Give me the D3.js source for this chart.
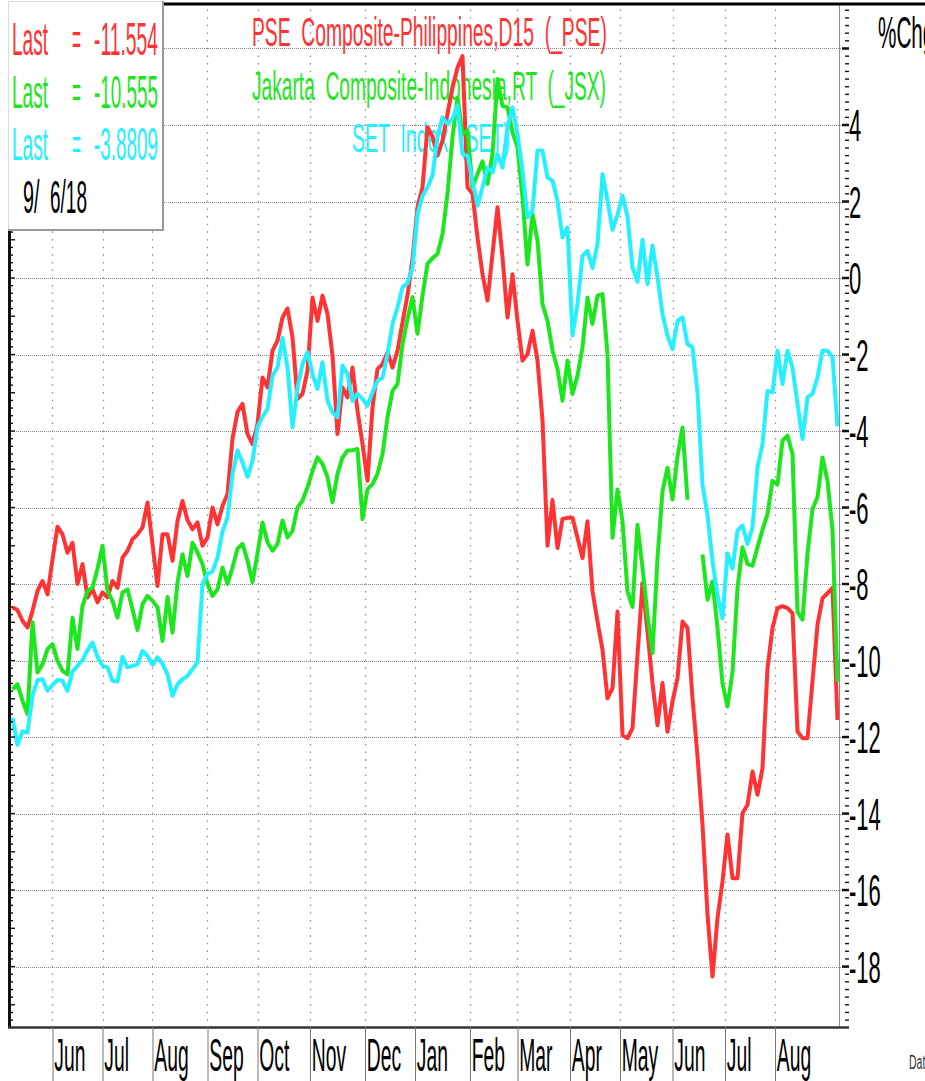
<!DOCTYPE html>
<html>
<head>
<meta charset="utf-8">
<script src="https://cdn.jsdelivr.net/npm/d3@7"></script>
<style>
  html, body { margin: 0; padding: 0; background: #fff; overflow: hidden; }
  svg { display: block; font-family: "Liberation Sans", Arial, sans-serif; }
</style>
</head>
<body>
<div id="chart"></div>
<script>
// month labels and the bar where each month starts
const monthLabels = ["Jun", "Jul", "Aug", "Sep", "Oct", "Nov", "Dec", "Jan", "Feb", "Mar", "Apr", "May", "Jun", "Jul", "Aug"];
const monthBars = [16, 36, 56, 78, 98, 119, 141, 161, 183, 202, 223, 243, 264, 285, 305];
const barStep = 2; // one reading every 2 bars
const yTicks = [4, 2, 0, -2, -4, -6, -8, -10, -12, -14, -16, -18];
const gridValues = [6, 4, 2, 0, -2, -4, -6, -8, -10, -12, -14, -16, -18];

const seriesNames = ["PSE  Composite-Philippines,D15  (_PSE)", "Jakarta  Composite-Indonesia,RT  (_JSX)", "SET  Index  (SET)"];
const lastValues = ["-11.554", "-10.555", "-3.8809"];
const lastDate = ["9/", "6/18"];

// % change
const pseValues = [
  -8.61, -8.68, -8.96, -9.14, -8.70, -8.18, -7.92, -8.27, -7.35, -6.5,
  -6.7, -7.18, -6.92, -8.0, -7.48, -8.35, -8.13, -8.48, -8.22, -8.35,
  -7.92, -8.1, -7.31, -7.13, -6.83, -6.70, -6.52, -5.87, -6.96, -8.05,
  -6.70, -6.70, -7.39, -6.35, -5.83, -6.33, -6.57, -6.39, -7.0, -6.78,
  -6.0, -6.44, -5.96, -5.65, -4.2, -3.5, -3.29, -4.08, -4.34, -3.82,
  -2.6, -2.86, -1.90, -1.64, -1.03, -0.8, -1.55, -3.16, -3.03, -2.42,
  -0.51, -1.12, -0.46, -0.94, -2.03, -4.08, -2.86, -3.12, -2.34, -3.47,
  -4.34, -5.3, -3.38, -2.38, -2.25, -1.94, -2.34, -1.90, -1.16, -0.45,
  0.5, 1.85, 2.37, 3.94, 3.7, 3.2, 3.59, 4.29, 4.98, 5.5,
  5.8, 2.37, 2.2, 1.06, 0.1, -0.59, 0.63, 1.85, 0.54, -1.03,
  0.1, -1.12, -2.16, -1.99, -1.38, -2.16, -3.72, -7.0, -5.8, -7.06,
  -6.3, -6.27, -6.27, -6.79, -7.32, -6.36, -8.19, -8.98, -9.72, -10.99,
  -10.72, -8.72, -11.95, -12.03, -11.77, -9.85, -7.97, -9.24, -10.59, -11.69,
  -10.59, -11.86, -11.07, -10.46, -8.98, -9.15, -10.99, -12.5, -14.29, -16.64,
  -18.26, -16.73, -15.77, -14.55, -15.69, -15.69, -13.99, -13.77, -12.9, -13.51,
  -12.81, -10.2, -9.15, -8.63, -8.58, -8.63, -8.76, -11.85, -12.03, -12.03,
  -10.54, -9.06, -8.37, -8.24, -8.1, -11.554
];
const jsxValues = [
  -10.75, -10.62, -11.05, -11.4, -9.0, -10.31, -10.1, -9.7, -9.57, -10.01,
  -10.27, -10.36, -8.88, -9.7, -8.57, -8.18, -8.09, -7.6, -7.0, -8.18,
  -8.44, -8.88, -8.22, -8.14, -8.66, -9.2, -8.53, -8.31, -8.44, -8.61,
  -9.49, -8.34, -9.27, -7.96, -7.22, -7.79, -6.92, -7.18, -7.48, -8.0,
  -8.31, -8.14, -7.57, -8.0, -7.57, -7.08, -6.95, -7.39, -7.95, -7.2,
  -6.39, -6.91, -7.13, -6.95, -6.34, -6.78, -6.61, -6.0, -5.82, -5.47,
  -5.04, -4.69, -4.86, -5.21, -5.86, -5.12, -4.69, -4.51, -4.5, -4.47,
  -6.3, -5.52, -5.39, -5.12, -4.6, -3.64, -2.95, -2.77, -1.73, -1.07,
  -0.5, -1.46, -0.46, 0.37, 0.52, 0.63, 1.15, 2.2, 3.68, 4.72,
  3.76, 3.85, 2.37, 2.72, 3.05, 2.46, 3.24, 5.2, 4.5, 4.46,
  3.81, 3.42, 2.11, 0.35, 1.67, 0.98, -0.68, -1.12, -1.9, -2.38,
  -3.21, -2.16, -3.03, -2.55, -1.81, -0.51, -1.2, -0.46, -0.42, -2.0,
  -6.79, -5.53, -6.36, -8.19, -8.6, -6.45, -7.58, -8.8, -9.81, -7.32,
  -5.57, -4.96, -5.79, -4.66, -3.91, -5.8, null, null, -7.23, -8.41,
  -7.93, -9.15, -10.6, -11.2, -10.3, -8.1, -7.04, -7.48, -7.52, -7.04,
  -6.58, -6.17, -5.3, -5.4, -4.25, -4.12, -4.6, -8.72, -8.93, -7.2,
  -6.04, -5.73, -4.69, -5.3, -6.6, -10.555
];
const setValues = [
  -11.5, -12.2, -11.85, -11.88, -10.92, -10.51, -10.49, -10.79, -10.64, -10.51,
  -10.53, -10.79, -10.29, -10.14, -9.99, -9.73, -9.53, -9.9, -10.14, -10.18,
  -10.53, -10.55, -9.9, -10.18, -10.14, -10.1, -9.75, -9.88, -10.11, -9.92,
  -10.08, -10.36, -10.92, -10.62, -10.49, -10.4, -10.23, -10.05, -8.0, -7.74,
  -7.67, -7.31, -6.63, -6.26, -5.12, -4.51, -4.82, -5.2, -4.78, -3.9,
  -3.63, -3.42, -2.55, -2.34, -1.57, -2.34, -3.9, -2.86, -2.25, -1.94,
  -2.51, -2.9, -2.2, -3.21, -3.51, -3.64, -2.29, -2.51, -3.21, -3.03,
  -3.16, -3.34, -2.99, -2.68, -2.61, -1.99, -1.2, -0.77, -0.24, -0.14,
  0.28, 1.67, 2.15, 2.37, 2.68, 3.68, 4.2, 4.03, 4.16, 4.51,
  3.24, 3.2, 2.54, 1.89, 2.37, 2.89, 2.76, 3.24, 2.89, 3.94,
  4.46, 3.76, 2.81, 1.59, 1.76, 3.33, 3.33, 2.63, 2.54, 2.02,
  1.06, 1.32, -1.5, -0.68, 0.58, 0.71, 0.26, 0.89, 2.72, 2.02,
  1.26, 1.65, 2.15, 1.6, 0.28, -0.1, 1.0, -0.16, 0.85, 0.02,
  -0.94, -1.51, -1.86, -1.12, -1.03, -1.73, -1.81, -3.0, -5.4, -6.2,
  -7.4, -8.3, -8.9, -7.2, -7.6, -6.6, -6.47, -6.95, -6.52, -4.95,
  -4.34, -2.95, -2.99, -1.9, -2.77, -1.9, -2.34, -3.29, -4.21, -3.12,
  -3.03, -2.6, -1.9, -1.9, -2.07, -3.8809
];

const colors = ["#ff3333", "#1ee61e", "#26f0ff"];

const width = 925;
const height = 1081;
const plot = {left: 10, right: 839, top: 4, bottom: 1027};

const x = d3.scaleLinear().domain([-1, 330.6]).range([plot.left, plot.right]);
const y = d3.scaleLinear().domain([-19.58, 7.163]).range([plot.bottom, plot.top]);

const svg = d3.select("#chart").append("svg")
    .attr("width", width)
    .attr("height", height);

// text squeezed sideways to a given width, like the narrow font of the original
function fitText(parent, str, left, base, targetWidth, size, color) {
  const t = parent.append("text")
      .attr("x", 0).attr("y", 0)
      .style("font-size", size + "px")
      .style("white-space", "pre")
      .attr("fill", color)
      .text(str);
  const w = t.node().getComputedTextLength();
  t.attr("transform", `translate(${left},${base}) scale(${targetWidth / w},1)`);
  return t;
}

svg.append("rect").attr("width", width).attr("height", height).attr("fill", "#fff");

svg.append("defs").append("clipPath").attr("id", "plot-clip")
  .append("rect")
    .attr("x", plot.left).attr("y", plot.top)
    .attr("width", plot.right - plot.left).attr("height", plot.bottom - plot.top);

// horizontal grid
svg.append("g").selectAll("line")
  .data(gridValues)
  .join("line")
    .attr("x1", plot.left).attr("x2", 848)
    .attr("y1", d => Math.round(y(d)) + 0.5).attr("y2", d => Math.round(y(d)) + 0.5)
    .attr("stroke", "#8c8c8c")
    .attr("stroke-dasharray", "1,1");

// vertical dotted grid at month starts
const dotStep = y(0) - y(0.2);
svg.append("g").selectAll("line")
  .data(monthBars)
  .join("line")
    .attr("x1", d => Math.round(x(d)) + 0.5).attr("x2", d => Math.round(x(d)) + 0.5)
    .attr("y1", y(7.0) - 0.75).attr("y2", plot.bottom)
    .attr("stroke", "#8c8c8c")
    .attr("stroke-width", 1.3)
    .attr("stroke-dasharray", `1.5,${dotStep - 1.5}`);

// titles
const titleLayout = [
  {x: 252, base: 46, len: 355},
  {x: 252, base: 100, len: 354},
  {x: 352, base: 152, len: 158}
];
const titles = svg.append("g");
seriesNames.forEach((name, i) => {
  fitText(titles, name, titleLayout[i].x, titleLayout[i].base, titleLayout[i].len, 41, colors[i]);
});

// series lines
const allSeries = [pseValues, jsxValues, setValues];
const line = d3.line()
    .defined(d => d.v !== null)
    .x(d => x(d.bar))
    .y(d => y(d.v));

svg.append("g")
    .attr("clip-path", "url(#plot-clip)")
  .selectAll("path")
  .data(allSeries.map(vals => vals.map((v, i) => ({bar: i * barStep, v: v}))))
  .join("path")
    .attr("d", line)
    .attr("fill", "none")
    .attr("stroke", (d, i) => colors[i])
    .attr("stroke-width", 4)
    .attr("stroke-linejoin", "round");

// frame
svg.append("line")
    .attr("x1", plot.right + 0.5).attr("x2", plot.right + 0.5)
    .attr("y1", plot.top).attr("y2", plot.bottom)
    .attr("stroke", "#8c8c8c");
svg.append("line")
    .attr("x1", 163).attr("x2", width)
    .attr("y1", 4).attr("y2", 4)
    .attr("stroke", "#000").attr("stroke-width", 3);
svg.append("line")
    .attr("x1", 9.5).attr("x2", 9.5)
    .attr("y1", 228).attr("y2", plot.bottom + 1)
    .attr("stroke", "#111").attr("stroke-width", 3);
svg.append("line")
    .attr("x1", 8).attr("x2", 849)
    .attr("y1", plot.bottom + 0.5).attr("y2", plot.bottom + 0.5)
    .attr("stroke", "#333").attr("stroke-width", 2.5);

// minor ticks on both sides
const minorTicks = d3.range(-97, 36).map(i => i * 0.2);
const isMajor = d => Math.abs(d / 2 - Math.round(d / 2)) < 0.01;
svg.append("g").selectAll("line")
  .data(minorTicks)
  .join("line")
    .attr("x1", 10).attr("x2", d => Math.abs(d - Math.round(d)) < 0.01 ? 15 : 13)
    .attr("y1", d => y(d)).attr("y2", d => y(d))
    .attr("stroke", "#111").attr("stroke-width", 1.4);
svg.append("g").selectAll("line")
  .data(minorTicks)
  .join("line")
    .attr("x1", d => isMajor(d) ? 842 : 845).attr("x2", 849)
    .attr("y1", d => y(d)).attr("y2", d => y(d))
    .attr("stroke", "#111")
    .attr("stroke-width", d => isMajor(d) ? 2.5 : 1.4);

// right axis labels
const yAxis = svg.append("g")
    .attr("transform", "translate(848,0)")
    .call(d3.axisRight(y).tickValues(yTicks).tickSize(0).tickPadding(2).tickFormat(d => d));
yAxis.select(".domain").remove();
yAxis.selectAll("text")
    .attr("transform", "scale(0.5,1)")
    .attr("dy", "0.36em")
    .attr("fill", "#000")
    .style("font-size", "44px")
    .style("font-family", "'Liberation Sans', Arial, sans-serif");

// month axis below the plot
const xAxis = svg.append("g")
    .attr("transform", `translate(0,${plot.bottom})`)
    .call(d3.axisBottom(x).tickValues(monthBars).tickSize(60).tickFormat((d, i) => monthLabels[i]));
xAxis.select(".domain").remove();
xAxis.selectAll(".tick line").attr("stroke", "#777");
xAxis.selectAll("text")
    .attr("text-anchor", "start")
    .attr("transform", "scale(0.42,1)")
    .attr("x", 3)
    .attr("y", 44)
    .attr("dy", 0)
    .attr("fill", "#000")
    .style("font-size", "46px")
    .style("font-family", "'Liberation Sans', Arial, sans-serif");

// legend box with last values
const legend = svg.append("g");
legend.append("rect")
    .attr("x", 8.5).attr("y", 1.5).attr("width", 154).attr("height", 228)
    .attr("fill", "#fff").attr("stroke", "#dcdcdc");
legend.append("line")
    .attr("x1", 163).attr("x2", 163).attr("y1", 1).attr("y2", 231)
    .attr("stroke", "#9a9a9a").attr("stroke-width", 2);
legend.append("line")
    .attr("x1", 8).attr("x2", 164).attr("y1", 230).attr("y2", 230)
    .attr("stroke", "#9a9a9a").attr("stroke-width", 2);

const legendBase = [55, 108, 160];
lastValues.forEach((val, i) => {
  fitText(legend, "Last", 12, legendBase[i], 36, 46, colors[i]);
  fitText(legend, "=", 72, legendBase[i], 9, 46, colors[i]);
  fitText(legend, val, 94, legendBase[i], 64, 46, colors[i]);
});
fitText(legend, lastDate[0], 23, 213, 16.5, 46, "#000");
fitText(legend, lastDate[1], 50, 213, 37, 46, "#000");

// unit label and clipped date caption
svg.append("text")
    .attr("transform", "translate(878,48) scale(0.47,1)")
    .style("font-size", "44px")
    .attr("fill", "#000")
    .text("%Chg");
svg.append("text")
    .attr("transform", "translate(909,1069) scale(0.5,1)")
    .style("font-size", "21px")
    .attr("fill", "#333")
    .text("Date");
</script>
</body>
</html>
